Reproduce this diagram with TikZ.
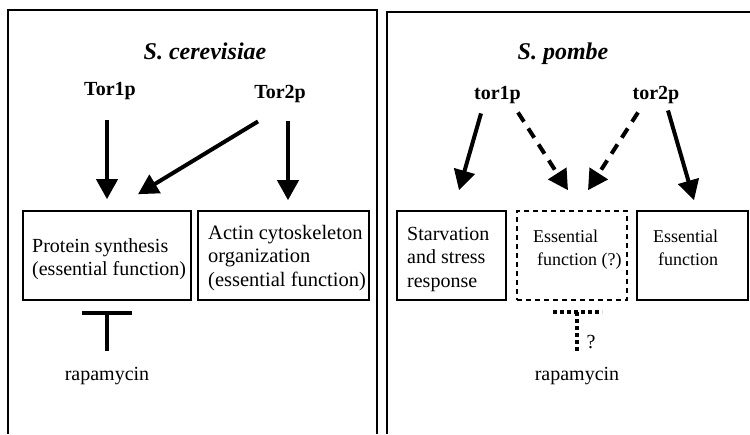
\documentclass[tikz,border=0pt]{standalone}
\usepackage{fontspec}
\setmainfont{Liberation Serif}
\usetikzlibrary{arrows.meta,calc}
\begin{document}
\begin{tikzpicture}[x=1pt,y=-1pt,
  txt/.style={inner sep=0pt,font=\fontsize{20}{23.5}\selectfont,align=left,anchor=north west},
  stxt/.style={txt,font=\fontsize{18}{23.5}\selectfont},
  lbl/.style={inner sep=0pt,font=\fontsize{20}{24}\selectfont\bfseries,anchor=base},
  ttl/.style={inner sep=0pt,font=\fontsize{24}{28}\selectfont\bfseries\itshape,anchor=base},
  plain/.style={inner sep=0pt,font=\fontsize{20}{24}\selectfont,anchor=base},
  box/.style={draw,line width=1.6pt,minimum height=89pt,inner sep=0pt},
  dbox/.style={box,line width=1.5pt,dash pattern=on 5pt off 4pt},
  arr/.style={line width=4pt,-{Triangle[length=20pt,width=21pt]}},
  darr/.style={arr,dash pattern=on 11pt off 8pt},
  inh/.style={line width=4.5pt},
  dinh/.style={line width=4pt,dash pattern=on 4pt off 3pt},
  panel/.style={line width=1.1pt}]
\useasboundingbox (0,0) rectangle (750,434);
\fill[white] (0,0) rectangle (750,434);
% panels
\draw[panel] (8,434) -- (8,10) -- (377,10) -- (377,434);
\draw[panel] (387,434) -- (387,12) -- (750,12);
% left panel
\node[ttl] (tl) at (205,59) {S. cerevisiae};
\node[lbl] (T1) at (110,95) {Tor1p};
\node[lbl] (T2) at (280,98) {Tor2p};
\node[box,minimum width=168pt] (b1) at (107,255.5) {};
\node[box,minimum width=171pt] (b2) at (283.5,255.5) {};
\node[txt] (b1t) at (32,238) {Protein synthesis\\(essential function)};
\node[txt,font=\fontsize{20.5}{23.5}\selectfont] (b2t) at (208,225) {Actin cytoskeleton\\organization\\(essential function)};
\node[plain] (r1) at (107,380) {rapamycin};
\draw[arr] ($(T1.south)+(-3,21)$) -- ($(b1.north)+(0,-11)$);
\draw[arr] ($(T2.south)+(-22,19)$) -- ($(b1.north)+(31,-16)$);
\draw[arr] ($(T2.south)+(8,19)$) -- ($(b2.north)+(4.5,-10)$);
\draw[inh] ($(r1.north)+(0,-16)$) -- ($(r1.north |- b1.south)+(0,12)$);
\draw[inh] ($(r1.north |- b1.south)+(-25,12)$) -- ($(r1.north |- b1.south)+(25,12)$);
% right panel
\node[ttl] (tr) at (563,59) {S. pombe};
\node[lbl] (t1) at (497.5,99) {tor1p};
\node[lbl] (t2) at (656,99) {tor2p};
\node[box,minimum width=109pt] (bA) at (451.5,255.5) {};
\node[dbox,minimum width=110pt] (bB) at (572,255.5) {};
\node[box,minimum width=111pt] (bC) at (692.5,255.5) {};
\node[txt] (bAt) at (407,227) {Starvation\\and stress\\response};
\node[stxt] (bBt) at (533,229.5) {Essential\\\hspace*{4pt}function (?)};
\node[stxt] (bCt) at (653,229.5) {Essential\\\hspace*{5pt}function};
\node[plain] (r2) at (577,380) {rapamycin};
\node[plain,anchor=base west] (q) at (586.5,348) {?};
\draw[arr] ($(t1.south)+(-16.5,10)$) -- ($(bA.north)+(7.5,-20)$);
\draw[darr] ($(t1.south)+(20.5,9)$) -- ($(bB.north)+(-4,-20)$);
\draw[darr] ($(t2.south)+(-18,9)$) -- ($(bB.north)+(16,-20)$);
\draw[arr] ($(t2.south)+(12,7)$) -- ($(bC.north)+(1.5,-10)$);
\draw[dinh] ($(r2.north)+(0,-16)$) -- ($(r2.north |- bB.south)+(0,11)$);
\draw[dinh] ($(r2.north |- bB.south)+(-24,11)$) -- ($(r2.north |- bB.south)+(25,11)$);
\end{tikzpicture}
\end{document}
